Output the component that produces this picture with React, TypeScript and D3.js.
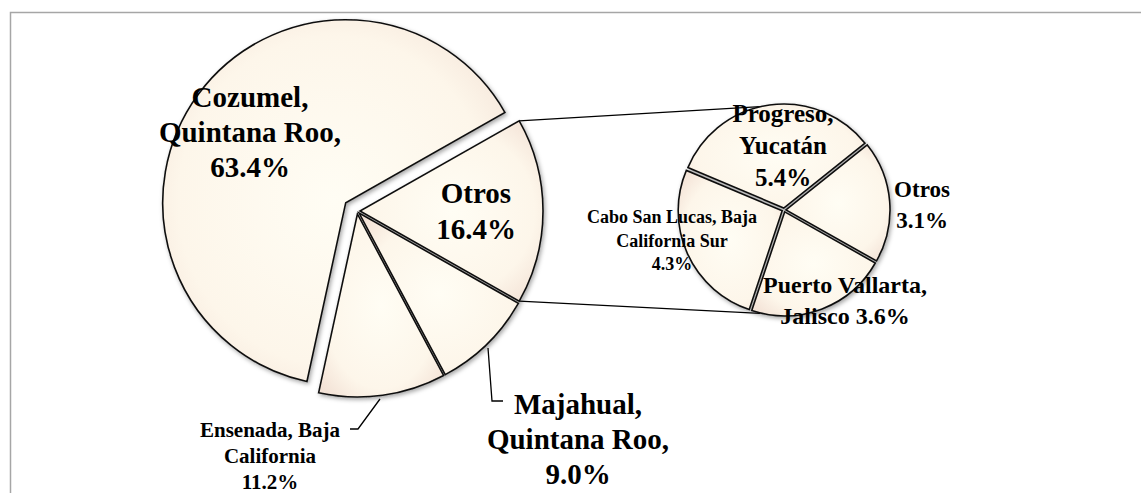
import React from "react";
import * as d3 from "d3";

// ---- data ----
const mainNames = ["Cozumel, Quintana Roo", "Ensenada, Baja California", "Majahual, Quintana Roo", "Otros"];
const mainValues = [63.4, 11.2, 9.0, 16.4];
const subNames = ["Progreso, Yucatán", "Cabo San Lucas, Baja California Sur", "Puerto Vallarta, Jalisco", "Otros"];
const subValues = [5.4, 4.3, 3.6, 3.1];

const fmt = d3.format(".1f");
const pct = (v: number) => `${fmt(v)}%`;

// label line splits (text), percent from data
const mainLabelLines = [
  ["Cozumel,", "Quintana Roo,", pct(mainValues[0])],
  ["Ensenada, Baja", "California", pct(mainValues[1])],
  ["Majahual,", "Quintana Roo,", pct(mainValues[2])],
  ["Otros", pct(mainValues[3])],
];
const subLabelLines = [
  ["Progreso,", "Yucatán", pct(subValues[0])],
  ["Cabo San Lucas, Baja", "California Sur", pct(subValues[1])],
  ["Puerto Vallarta,", `Jalisco ${pct(subValues[2])}`],
  ["Otros", pct(subValues[3])],
];

// ---- layout ----
const W = 1141;
const H = 493;
const mainC = { x: 357, y: 211 };
const mainR = 183;
const mainExplode = [14, 3, 3, 3];
const subC = { x: 784, y: 210 };
const subR = 104;
const subExplode = [2, 2, 2, 2];
const deg = Math.PI / 180;

const mainLabelPos = [
  { x: 250, y: 107, size: 29, lh: 35 },
  { x: 270, y: 437, size: 21, lh: 26 },
  { x: 578, y: 414, size: 29, lh: 35 },
  { x: 476, y: 203, size: 29, lh: 36 },
];
const subLabelPos = [
  { x: 783, y: 122, size: 25, lh: 32 },
  { x: 672, y: 223, size: 18, lh: 23.5 },
  { x: 845, y: 293, size: 24, lh: 31 },
  { x: 922, y: 197, size: 23, lh: 31 },
];

const FONT = "'Liberation Serif', 'Times New Roman', Times, serif";

function offset(a: d3.PieArcDatum<number>, d: number) {
  const m = (a.startAngle + a.endAngle) / 2;
  return { dx: Math.sin(m) * d, dy: -Math.cos(m) * d };
}

export default function App() {
  const mainSum = d3.sum(mainValues);
  const otrosShare = mainValues[3] / mainSum;
  const mainStart = Math.PI / 2 - otrosShare * Math.PI;
  const mainPie = d3
    .pie<number>()
    .sort(null)
    .startAngle(mainStart)
    .endAngle(mainStart - 2 * Math.PI);
  const mainArcs = mainPie(mainValues);

  const subStart = 51.4 * deg;
  const subPie = d3
    .pie<number>()
    .sort(null)
    .startAngle(subStart)
    .endAngle(subStart - 2 * Math.PI);
  const subArcs = subPie(subValues);

  const arcMain = d3.arc<d3.PieArcDatum<number>>().innerRadius(0).outerRadius(mainR);
  const arcSub = d3.arc<d3.PieArcDatum<number>>().innerRadius(0).outerRadius(subR);

  // connector lines: from Otros slice corners to the secondary pie
  const otros = mainArcs[3];
  const oo = offset(otros, mainExplode[3]);
  const pt = (cx: number, cy: number, r: number, a: number) => ({
    x: cx + Math.sin(a) * r,
    y: cy - Math.cos(a) * r,
  });
  const oTop = pt(mainC.x + oo.dx, mainC.y + oo.dy, mainR, Math.min(otros.startAngle, otros.endAngle) + 2 * Math.PI);
  const oBot = pt(mainC.x + oo.dx, mainC.y + oo.dy, mainR, Math.max(otros.startAngle, otros.endAngle) + 2 * Math.PI);
  const sTop = pt(subC.x, subC.y, subR + 2, -13 * deg);
  const sBot = pt(subC.x, subC.y, subR + 2, 193 * deg);

  const renderLabel = (lines: string[], p: { x: number; y: number; size: number; lh: number }, key: string) => (
    <text
      key={key}
      x={p.x}
      y={p.y}
      textAnchor="middle"
      fontFamily={FONT}
      fontWeight="bold"
      fontSize={p.size}
      fill="#000"
    >
      {lines.map((l, i) => (
        <tspan key={i} x={p.x} y={p.y + i * p.lh}>
          {l}
        </tspan>
      ))}
    </text>
  );

  return (
    <svg
      width={W}
      height={H}
      viewBox={`0 0 ${W} ${H}`}
      style={{ position: "absolute", left: 0, top: 0, background: "#fff" }}
    >
      <defs>
        <radialGradient id="sliceFill" cx="50%" cy="50%" r="65%">
          <stop offset="0%" stopColor="#fffdf4" />
          <stop offset="70%" stopColor="#fdf6ea" />
          <stop offset="100%" stopColor="#f3e2d6" />
        </radialGradient>
        <filter id="shadow" x="-10%" y="-10%" width="130%" height="130%">
          <feDropShadow dx="1.5" dy="2" stdDeviation="2" floodColor="#000" floodOpacity="0.35" />
        </filter>
      </defs>

      {/* frame */}
      <rect x={10.5} y={12.5} width={1200} height={600} fill="none" stroke="#a6a6a6" strokeWidth={1.5} />

      {/* connector lines */}
      <line x1={oTop.x} y1={oTop.y} x2={sTop.x} y2={sTop.y} stroke="#000" strokeWidth={1.3} />
      <line x1={oBot.x} y1={oBot.y} x2={sBot.x} y2={sBot.y} stroke="#000" strokeWidth={1.3} />

      {/* main pie */}
      <g filter="url(#shadow)">
        {mainArcs.map((a, i) => {
          const o = offset(a, mainExplode[i]);
          return (
            <path
              key={i}
              d={arcMain(a) || ""}
              transform={`translate(${mainC.x + o.dx},${mainC.y + o.dy})`}
              fill="url(#sliceFill)"
              stroke="#111"
              strokeWidth={1.6}
              strokeLinejoin="miter"
            />
          );
        })}
      </g>

      {/* secondary pie */}
      <g filter="url(#shadow)">
        {subArcs.map((a, i) => {
          const o = offset(a, subExplode[i]);
          return (
            <path
              key={i}
              d={arcSub(a) || ""}
              transform={`translate(${subC.x + o.dx},${subC.y + o.dy})`}
              fill="url(#sliceFill)"
              stroke="#111"
              strokeWidth={1.6}
            />
          );
        })}
      </g>

      {/* leader lines */}
      <polyline points="488,348 492,401 503,401" fill="none" stroke="#000" strokeWidth={1.3} />
      <polyline points="380,399 358,429 350,429" fill="none" stroke="#000" strokeWidth={1.3} />

      {/* labels */}
      {mainLabelLines.map((lines, i) => renderLabel(lines, mainLabelPos[i], `m${i}`))}
      {subLabelLines.map((lines, i) => renderLabel(lines, subLabelPos[i], `s${i}`))}
      <title>{mainNames.concat(subNames).join("; ")}</title>
    </svg>
  );
}
